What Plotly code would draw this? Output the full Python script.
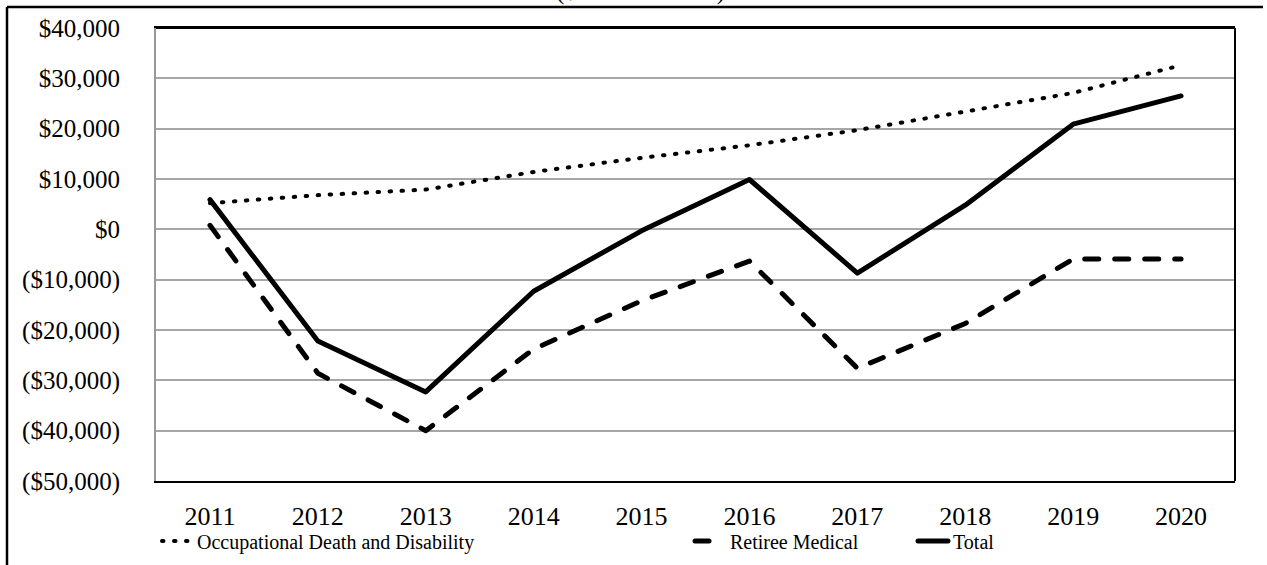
import plotly.graph_objects as go

years = ["2011", "2012", "2013", "2014", "2015", "2016", "2017", "2018", "2019", "2020"]
occupational = [5200, 6800, 7900, 11400, 14200, 16700, 19700, 23300, 27100, 32600]
retiree = [800, -28600, -40000, -23800, -14200, -6300, -27600, -18700, -5900, -5900]
total = [5900, -22200, -32300, -12300, -300, 9900, -8700, 4800, 20900, 26500]

y_ticks = [40000, 30000, 20000, 10000, 0, -10000, -20000, -30000, -40000, -50000]
y_labels = ["$40,000", "$30,000", "$20,000", "$10,000", "$0", "($10,000)", "($20,000)",
            "($30,000)", "($40,000)", "($50,000)"]

W, H = 1267, 565
L, R, T, B = 156, 1235, 28, 481
FONT = "Liberation Serif"

def px_x(p):
    return (p - L) / (R - L)

def px_y(p):
    return (B - p) / (B - T)

fig = go.Figure()
fig.add_trace(go.Scatter(x=years, y=occupational, mode="lines", name="Occupational Death and Disability",
                         line=dict(color="black", width=4, dash="1.5px,10.5px"), legend="legend"))
fig.add_trace(go.Scatter(x=years, y=retiree, mode="lines", name="Retiree Medical",
                         line=dict(color="black", width=5, dash="14px,16px"), legend="legend2"))
fig.add_trace(go.Scatter(x=years, y=total, mode="lines", name="Total",
                         line=dict(color="black", width=5), legend="legend3"))

legend_common = dict(orientation="h", yanchor="middle", xanchor="left",
                     font=dict(family=FONT, size=20, color="black"),
                     bgcolor="rgba(0,0,0,0)", borderwidth=0, itemwidth=30)
ly = px_y(541)
fig.update_layout(
    legend=dict(x=px_x(157), y=ly, **legend_common),
    legend2=dict(x=px_x(690), y=ly, **legend_common),
    legend3=dict(x=px_x(913), y=ly, **legend_common),
)

fig.update_layout(
    width=W, height=H,
    margin=dict(l=L, r=W - R, t=T, b=H - B, pad=0, autoexpand=False),
    paper_bgcolor="white", plot_bgcolor="white",
    font=dict(family=FONT, color="black"),
    showlegend=True,
    xaxis=dict(type="category", range=[-0.5, 9.5], showgrid=False, zeroline=False,
               showline=True, linecolor="black", linewidth=2, mirror=True,
               ticks="outside", ticklen=11, tickcolor="rgba(0,0,0,0)",
               tickfont=dict(family=FONT, size=26, color="black"), fixedrange=True),
    yaxis=dict(range=[-50000, 40000], tickvals=y_ticks, ticktext=y_labels,
               showgrid=True, gridcolor="#a6a6a6", gridwidth=1.5, zeroline=False,
               showline=True, linecolor="#999999", linewidth=2,
               ticks="outside", ticklen=29, tickcolor="rgba(0,0,0,0)",
               tickfont=dict(family=FONT, size=25, color="black"), fixedrange=True),
)

# plot-area border (top/right black)
fig.add_shape(type="line", xref="paper", yref="paper", x0=1, x1=1, y0=0, y1=1,
              line=dict(color="black", width=2))
fig.add_shape(type="line", xref="paper", yref="paper", x0=0, x1=1, y0=1, y1=1,
              line=dict(color="black", width=2))
# outer frame (top and left visible)
fig.add_shape(type="line", xref="paper", yref="paper", x0=px_x(7), x1=px_x(1263), y0=px_y(7), y1=px_y(7),
              line=dict(color="black", width=2.5))
fig.add_shape(type="line", xref="paper", yref="paper", x0=px_x(7), x1=px_x(7), y0=px_y(7), y1=px_y(570),
              line=dict(color="black", width=2.5))

# clipped title above the frame
fig.add_annotation(text="($ in Thousands)", xref="paper", yref="paper", x=px_x(640), y=px_y(-9),
                   xanchor="center", yanchor="middle", showarrow=False,
                   font=dict(family=FONT, size=25, color="black"))

post = (
    "document.body.style.margin='0';"
    "document.querySelectorAll('path.js-line').forEach(function(p){"
    "p.style.strokeLinecap='round';p.style.strokeLinejoin='round';});"
)
fig.write_html("out.html", post_script=post, config={"displayModeBar": False})
